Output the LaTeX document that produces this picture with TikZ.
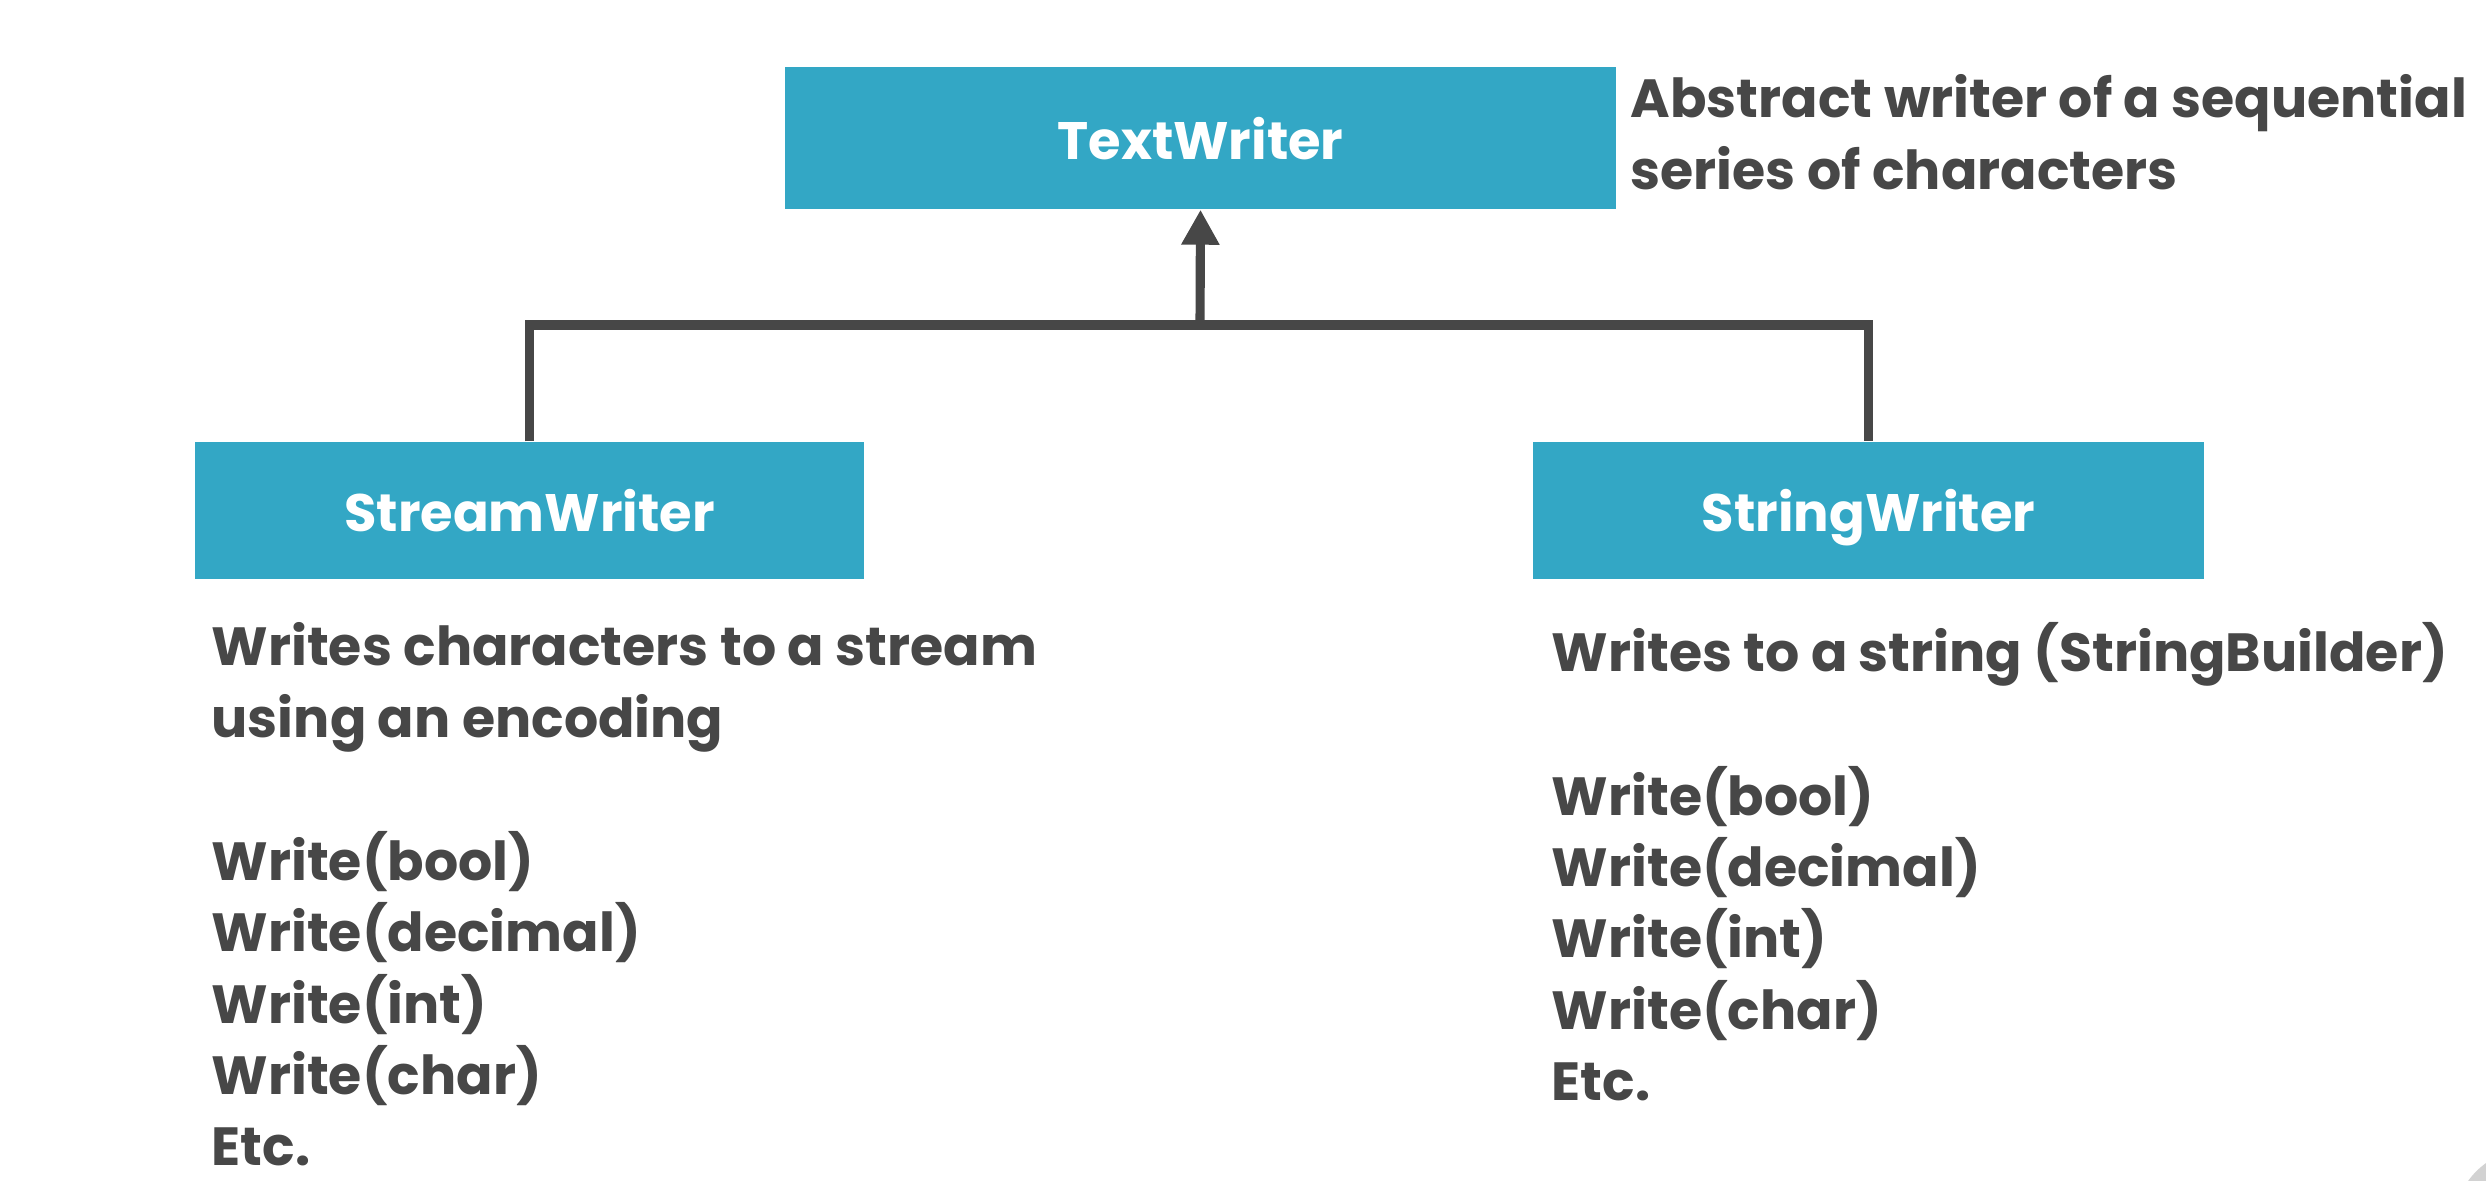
\documentclass[tikz,border=0pt]{standalone}
\usepackage{fontspec}
\setmainfont{Poppins}
\usetikzlibrary{arrows.meta}
\definecolor{boxteal}{HTML}{33A7C5}
\definecolor{inkgrey}{HTML}{474747}

\begin{document}
\begin{tikzpicture}[x=1cm,y=-1cm,
		classbox/.style={fill=boxteal, text=white, inner sep=0pt, text depth=0pt, font=\bfseries\fontsize{15}{18}\selectfont},
		note/.style={text=inkgrey, align=left, inner sep=0pt, anchor=north west, font=\bfseries\fontsize{15.3}{20.3}\selectfont},
		link/.style={draw=inkgrey, line width=2.6pt}]
		% Frame
		\useasboundingbox (0,0) rectangle (24.86,11.80);
		\fill[white] (0,0) rectangle (24.86,11.80);
		\fill[gray!35] (25.30,12.25) circle (0.76);
		
		% Coordinates
		\coordinate (junction) at (12.00,3.25);
		
		% Classes
		\node[classbox, minimum width=8.31cm, minimum height=1.42cm] (textwriter) at (12.005,1.38) {TextWriter};
		\node[classbox, minimum width=6.69cm, minimum height=1.37cm] (streamwriter) at (5.295,5.105) {StreamWriter};
		\node[classbox, minimum width=6.71cm, minimum height=1.37cm] (stringwriter) at (18.685,5.105) {StringWriter};
		
		% Inheritance
		\draw[link] (streamwriter.north) |- (junction) -| (stringwriter.north);
		\draw[link, -{Triangle[length=3.5mm, width=3.6mm]}] (junction) -- (textwriter.south);
		
		% Notes
		\node[note] (abstractnote) at (16.30,0.74) {Abstract writer of a sequential\\series of characters};
		\node[note] (streamnote) at (2.11,6.22) {Writes characters to a stream\\using an encoding\\[0.72cm]
			Write(bool)\\Write(decimal)\\Write(int)\\Write(char)\\Etc.};
		\node[note] (stringnote) at (15.51,6.22) {Writes to a string (StringBuilder)\\[0.72cm]
			Write(bool)\\Write(decimal)\\Write(int)\\Write(char)\\Etc.};
	\end{tikzpicture}
\end{document}
